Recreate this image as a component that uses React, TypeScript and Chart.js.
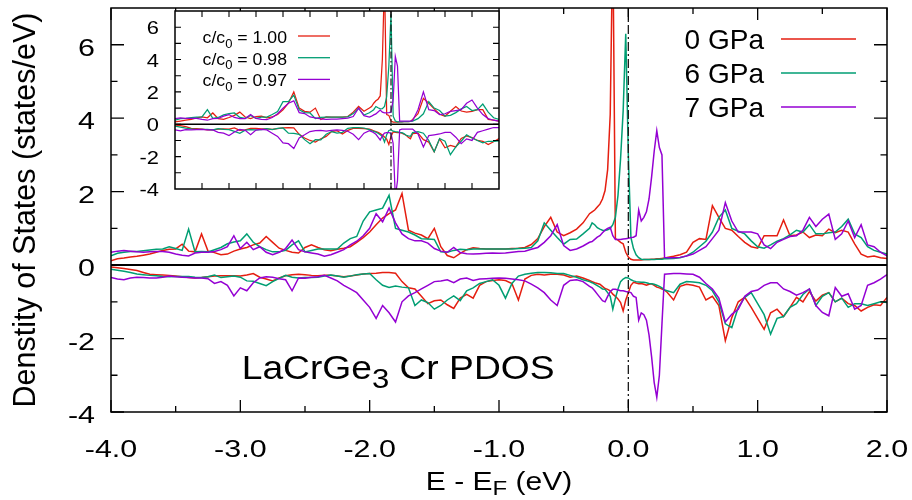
import React, { useEffect, useRef } from 'react';
import { Chart, registerables } from 'chart.js';

Chart.register(...registerables);

// ---------- main panel data (E - E_F in eV) ----------
const ENERGY = [
  -4.00, -3.95, -3.90, -3.85, -3.80,
  -3.75, -3.70, -3.65, -3.60, -3.55,
  -3.50, -3.45, -3.40, -3.35, -3.30,
  -3.25, -3.20, -3.15, -3.10, -3.05,
  -3.00, -2.95, -2.90, -2.85, -2.80,
  -2.75, -2.70, -2.65, -2.60, -2.55,
  -2.50, -2.45, -2.40, -2.35, -2.30,
  -2.25, -2.20, -2.15, -2.10, -2.05,
  -2.00, -1.95, -1.90, -1.85, -1.80,
  -1.75, -1.70, -1.65, -1.60, -1.55,
  -1.50, -1.45, -1.40, -1.35, -1.30,
  -1.25, -1.20, -1.15, -1.10, -1.05,
  -1.00, -0.95, -0.90, -0.85, -0.80,
  -0.75, -0.70, -0.65, -0.60, -0.55,
  -0.50, -0.45, -0.40, -0.35, -0.30,
  -0.28, -0.26, -0.24, -0.22, -0.20,
  -0.18, -0.16, -0.14, -0.12, -0.10,
  -0.08, -0.06, -0.04, -0.02, 0.00,
  0.02, 0.04, 0.06, 0.08, 0.10,
  0.12, 0.14, 0.16, 0.18, 0.20,
  0.22, 0.24, 0.26, 0.28, 0.30,
  0.35, 0.40, 0.45, 0.50, 0.55,
  0.60, 0.65, 0.70, 0.75, 0.80,
  0.85, 0.90, 0.95, 1.00, 1.05,
  1.10, 1.15, 1.20, 1.25, 1.30,
  1.35, 1.40, 1.45, 1.50, 1.55,
  1.60, 1.65, 1.70, 1.75, 1.80,
  1.85, 1.90, 1.95, 2.00,
];

const UP_0GPA = [
  0.12, 0.17, 0.19, 0.22, 0.24,
  0.27, 0.30, 0.35, 0.40, 0.43,
  0.44, 0.57, 0.38, 0.36, 0.85,
  0.38, 0.34, 0.28, 0.30, 0.38,
  0.44, 0.48, 0.55, 0.60, 0.78,
  0.62, 0.46, 0.40, 0.35, 0.33,
  0.48, 0.55, 0.48, 0.42, 0.39,
  0.43, 0.46, 0.50, 0.62, 0.75,
  0.90, 1.10, 1.28, 1.40, 1.50,
  1.95, 0.95, 0.87, 0.82, 0.72,
  1.00, 0.50, 0.26, 0.20, 0.32,
  0.42, 0.47, 0.45, 0.44, 0.44,
  0.44, 0.44, 0.45, 0.46, 0.48,
  0.56, 0.72, 1.05, 1.30, 0.90,
  0.80, 0.88, 0.98, 1.15, 1.40,
  1.45, 1.50, 1.58, 1.66, 1.80,
  2.03, 2.60, 4.10, 9.00, 0.72,
  0.68, 0.62, 0.58, 0.35, 0.22,
  0.16, 0.14, 0.14, 0.14, 0.14,
  0.15, 0.15, 0.15, 0.16, 0.16,
  0.17, 0.17, 0.18, 0.19, 0.21,
  0.24, 0.28, 0.35, 0.62, 0.72,
  0.70, 1.62, 1.30, 1.00, 0.95,
  0.78, 0.62, 0.50, 0.46, 0.80,
  0.80, 0.80, 1.23, 0.80, 0.82,
  0.90, 0.75, 0.82, 0.80, 0.98,
  0.88, 0.95, 0.90, 0.58, 0.30,
  0.22, 0.25, 0.20, 0.18,
];

const UP_6GPA = [
  0.25, 0.32, 0.35, 0.37, 0.37,
  0.39, 0.41, 0.43, 0.44, 0.50,
  0.45, 0.40, 0.98, 0.36, 0.37,
  0.36, 0.42, 0.48, 0.58, 0.63,
  0.66, 0.85, 0.62, 0.50, 0.42,
  0.36, 0.36, 0.40, 0.55, 0.66,
  0.36, 0.40, 0.44, 0.44, 0.44,
  0.44, 0.60, 0.72, 0.78, 1.20,
  1.45, 1.50, 1.55, 1.90, 1.00,
  0.95, 0.90, 0.82, 0.72, 0.71,
  0.70, 0.36, 0.35, 0.40, 0.43,
  0.42, 0.44, 0.44, 0.44, 0.44,
  0.44, 0.44, 0.44, 0.45, 0.46,
  0.48, 0.66, 1.15, 0.95, 0.75,
  0.57, 0.70, 0.71, 0.85, 1.00,
  1.15, 1.10, 1.02, 0.98, 0.95,
  0.94, 0.96, 1.00, 1.10, 1.30,
  1.90, 2.90, 4.20, 6.30, 3.00,
  0.75, 0.45, 0.28, 0.20, 0.16,
  0.15, 0.15, 0.15, 0.15, 0.15,
  0.16, 0.16, 0.16, 0.17, 0.17,
  0.18, 0.20, 0.25, 0.35, 0.50,
  0.65, 0.90, 1.30, 1.50, 1.00,
  0.92, 0.85, 0.66, 0.50, 0.46,
  0.55, 0.65, 0.72, 0.82, 0.95,
  0.90, 1.10, 0.85, 0.85, 0.88,
  0.90, 1.05, 1.25, 0.85, 0.75,
  0.50, 0.40, 0.35, 0.30,
];

const UP_7GPA = [
  0.35, 0.38, 0.40, 0.38, 0.36,
  0.35, 0.36, 0.37, 0.37, 0.35,
  0.30, 0.27, 0.25, 0.33, 0.35,
  0.35, 0.37, 0.42, 0.50, 0.80,
  0.45, 0.62, 0.42, 0.50, 0.35,
  0.28, 0.35, 0.45, 0.68, 0.42,
  0.36, 0.33, 0.30, 0.24, 0.28,
  0.35, 0.42, 0.55, 0.65, 0.80,
  1.00, 1.40, 1.18, 1.55, 1.15,
  0.85, 0.72, 0.66, 0.66, 0.60,
  0.45, 0.38, 0.35, 0.48, 0.34,
  0.31, 0.30, 0.31, 0.32, 0.33,
  0.32, 0.33, 0.35, 0.37, 0.38,
  0.43, 0.48, 0.62, 0.80, 1.10,
  0.53, 0.40, 0.44, 0.52, 0.62,
  0.64, 0.70, 0.76, 0.80, 0.88,
  0.95, 1.00, 1.03, 0.80, 0.70,
  0.70, 0.70, 0.71, 0.72, 0.73,
  0.75, 0.76, 0.80, 1.50, 1.20,
  1.30, 1.45, 1.80, 2.40, 3.10,
  3.66, 3.20, 3.00, 0.21, 0.20,
  0.20, 0.21, 0.25, 0.30, 0.40,
  0.50, 0.72, 0.95, 1.70, 1.20,
  0.90, 0.90, 0.90, 0.85, 0.55,
  0.45, 0.62, 0.70, 0.78, 0.80,
  0.95, 1.30, 1.05, 1.25, 1.39,
  0.70, 0.85, 1.20, 0.75, 1.10,
  0.55, 0.50, 0.35, 0.25,
];

const DOWN_0GPA = [
  -0.05, -0.07, -0.09, -0.12, -0.15,
  -0.20, -0.25, -0.26, -0.27, -0.28,
  -0.30, -0.32, -0.34, -0.35, -0.34,
  -0.32, -0.30, -0.29, -0.29, -0.29,
  -0.30, -0.27, -0.23, -0.33, -0.38,
  -0.43, -0.35, -0.29, -0.26, -0.25,
  -0.26, -0.28, -0.29, -0.28, -0.28,
  -0.30, -0.32, -0.30, -0.27, -0.24,
  -0.23, -0.22, -0.20, -0.20, -0.22,
  -0.45, -0.62, -0.65, -0.85, -1.05,
  -0.97, -0.95, -1.08, -1.18, -0.90,
  -0.80, -0.90, -0.55, -0.45, -0.42,
  -0.40, -0.42, -0.50, -0.95, -0.38,
  -0.28, -0.25, -0.27, -0.25, -0.25,
  -0.27, -0.33, -0.30, -0.35, -0.42,
  -0.45, -0.48, -0.50, -0.52, -0.58,
  -0.64, -0.66, -0.70, -0.79, -0.85,
  -0.92, -1.02, -1.25, -0.95, -0.75,
  -0.55, -0.47, -0.49, -0.51, -0.50,
  -0.52, -0.55, -0.52, -0.51, -0.55,
  -0.60, -0.62, -0.65, -0.68, -0.74,
  -0.95, -0.58, -0.52, -0.55, -0.60,
  -0.95, -0.85, -1.10, -2.06, -1.43,
  -1.00, -0.88, -1.15, -1.45, -1.75,
  -1.30, -1.20, -1.40, -1.15, -0.88,
  -1.00, -0.72, -0.98, -0.82, -0.75,
  -1.00, -0.90, -1.05, -1.10, -1.25,
  -1.15, -1.08, -1.10, -0.88,
];

const DOWN_6GPA = [
  -0.11, -0.14, -0.17, -0.20, -0.24,
  -0.26, -0.28, -0.29, -0.31, -0.32,
  -0.31, -0.31, -0.31, -0.33, -0.34,
  -0.32, -0.27, -0.34, -0.32, -0.30,
  -0.33, -0.43, -0.44, -0.50, -0.56,
  -0.45, -0.36, -0.28, -0.33, -0.35,
  -0.34, -0.34, -0.33, -0.30, -0.27,
  -0.30, -0.33, -0.30, -0.26, -0.24,
  -0.23, -0.40, -0.55, -0.61, -0.57,
  -0.60, -0.62, -1.10, -0.95, -1.02,
  -1.20, -1.10, -0.95, -0.84, -0.97,
  -0.70, -0.62, -0.50, -0.45, -0.40,
  -0.55, -0.90, -0.50, -0.30, -0.25,
  -0.22, -0.20, -0.20, -0.21, -0.23,
  -0.23, -0.28, -0.33, -0.40, -0.45,
  -0.48, -0.52, -0.56, -0.60, -0.65,
  -0.66, -0.75, -0.85, -1.20, -0.90,
  -0.65, -0.45, -0.38, -0.34, -0.35,
  -0.40, -0.43, -0.45, -0.46, -0.47,
  -0.47, -0.48, -0.50, -0.51, -0.52,
  -0.55, -0.58, -0.62, -0.68, -0.70,
  -0.75, -0.52, -0.45, -0.46, -0.48,
  -0.55, -0.70, -1.00, -1.60, -1.70,
  -1.15, -0.88, -0.75, -1.05, -1.35,
  -1.88, -1.45, -1.40, -1.15, -1.05,
  -0.80, -0.65, -1.10, -0.85, -0.75,
  -1.00, -0.90, -1.15, -1.05, -1.05,
  -1.10, -1.05, -1.00, -1.02,
];

const DOWN_7GPA = [
  -0.34, -0.38, -0.40, -0.35, -0.33,
  -0.34, -0.35, -0.35, -0.33, -0.30,
  -0.32, -0.33, -0.34, -0.35, -0.35,
  -0.37, -0.50, -0.45, -0.55, -0.84,
  -0.62, -0.70, -0.48, -0.35, -0.32,
  -0.33, -0.37, -0.40, -0.70, -0.35,
  -0.36, -0.33, -0.32, -0.28, -0.35,
  -0.43, -0.55, -0.65, -0.75, -0.95,
  -1.15, -1.45, -1.10, -1.30, -1.55,
  -1.00, -0.84, -0.75, -0.65, -0.55,
  -0.45, -0.43, -0.40, -0.48, -0.38,
  -0.35, -0.42, -0.38, -0.37, -0.36,
  -0.35, -0.36, -0.38, -0.40, -0.43,
  -0.52, -0.62, -0.75, -0.95, -1.10,
  -0.55, -0.42, -0.40, -0.45, -0.58,
  -0.62, -0.70, -0.79, -0.88, -0.97,
  -1.00, -0.85, -0.72, -0.66, -0.66,
  -0.68, -0.70, -0.70, -0.72, -0.73,
  -0.75, -0.85, -0.88, -1.50, -1.30,
  -1.35, -1.50, -1.90, -2.50, -3.20,
  -3.60, -3.00, -1.60, -0.25, -0.24,
  -0.23, -0.23, -0.24, -0.25, -0.33,
  -0.50, -0.65, -0.90, -1.55, -1.34,
  -1.20, -0.85, -0.72, -0.68, -0.55,
  -0.48, -0.48, -0.65, -0.72, -0.82,
  -0.75, -0.65, -1.10, -1.29, -1.38,
  -0.61, -0.85, -0.78, -1.20, -1.10,
  -0.55, -0.48, -0.38, -0.26,
];

// ---------- inset data ----------
const INSET_ENERGY = [
  -4.0, -3.9, -3.8, -3.7, -3.6,
  -3.5, -3.4, -3.3, -3.2, -3.1,
  -3.0, -2.9, -2.8, -2.7, -2.6,
  -2.5, -2.4, -2.3, -2.2, -2.1,
  -2.0, -1.9, -1.8, -1.7, -1.6,
  -1.5, -1.4, -1.3, -1.2, -1.1,
  -1.0, -0.9, -0.8, -0.7, -0.6,
  -0.5, -0.4,
  -0.36, -0.32, -0.28, -0.24, -0.20,
  -0.16, -0.12, -0.08, -0.04, 0.00,
  0.04, 0.08, 0.12, 0.16, 0.20,
  0.24, 0.28, 0.32, 0.36,
  0.4, 0.5, 0.6, 0.7, 0.8,
  0.9, 1.0, 1.1, 1.2, 1.3,
  1.4, 1.5, 1.6, 1.7, 1.8,
  1.9, 2.0,
];

const INSET_UP_100 = [
  0.15, 0.20, 0.25, 0.30, 0.40,
  0.45, 0.40, 0.70, 0.35, 0.30,
  0.42, 0.55, 0.75, 0.45, 0.35,
  0.48, 0.50, 0.40, 0.45, 0.60,
  0.90, 1.30, 2.00, 1.00, 0.80,
  0.75, 1.00, 0.30, 0.45, 0.44,
  0.44, 0.44, 0.48, 0.75, 1.10,
  0.80, 1.00,
  1.10, 1.30, 1.45, 1.55, 1.75,
  4.00, 9.00, 0.60, 0.55, 0.20,
  0.14, 0.14, 0.14, 0.15, 0.15,
  0.16, 0.16, 0.17, 0.18,
  0.30, 0.65, 1.60, 1.30, 0.95,
  0.62, 0.50, 0.80, 1.10, 0.82,
  0.75, 0.80, 0.90, 0.90, 0.30,
  0.25, 0.20,
];

const INSET_UP_098 = [
  0.25, 0.35, 0.37, 0.41, 0.44,
  0.45, 0.90, 0.37, 0.42, 0.58,
  0.66, 0.70, 0.42, 0.36, 0.55,
  0.36, 0.44, 0.44, 0.60, 0.78,
  1.40, 1.40, 1.80, 0.90, 0.72,
  0.70, 0.35, 0.43, 0.44, 0.44,
  0.44, 0.44, 0.46, 0.66, 1.00,
  0.57, 0.71,
  0.80, 0.90, 1.10, 1.02, 0.95,
  0.96, 1.10, 1.70, 3.60, 6.80,
  0.50, 0.20, 0.15, 0.15, 0.15,
  0.16, 0.16, 0.17, 0.18,
  0.20, 0.35, 0.65, 1.40, 1.00,
  0.85, 0.50, 0.55, 0.72, 0.95,
  1.10, 0.85, 0.90, 1.25, 0.75,
  0.40, 0.30,
];

const INSET_UP_097 = [
  0.35, 0.40, 0.36, 0.36, 0.37,
  0.30, 0.25, 0.35, 0.37, 0.50,
  0.60, 0.42, 0.35, 0.35, 0.60,
  0.36, 0.30, 0.28, 0.42, 0.65,
  1.00, 1.30, 1.45, 0.72, 0.66,
  0.45, 0.40, 0.34, 0.30, 0.32,
  0.32, 0.35, 0.38, 0.48, 1.00,
  0.53, 0.44,
  0.50, 0.58, 0.64, 0.76, 0.88,
  0.75, 0.70, 0.70, 0.72, 0.75,
  1.50, 4.20, 3.60, 0.20, 0.20,
  0.20, 0.20, 0.20, 0.20,
  0.22, 0.90, 2.00, 0.90, 0.85,
  0.60, 0.65, 0.80, 0.85, 0.90,
  1.30, 1.50, 1.00, 0.60, 0.35,
  0.25, 0.20,
];

const INSET_DOWN_100 = [
  -0.05, -0.09, -0.15, -0.25, -0.27,
  -0.30, -0.34, -0.34, -0.30, -0.29,
  -0.30, -0.23, -0.38, -0.35, -0.26,
  -0.26, -0.29, -0.28, -0.32, -0.27,
  -0.23, -0.20, -0.22, -0.62, -0.85,
  -1.00, -1.10, -0.90, -0.75, -0.45,
  -0.40, -0.60, -0.38, -0.25, -0.25,
  -0.27, -0.30,
  -0.35, -0.40, -0.45, -0.50, -0.58,
  -0.66, -0.79, -0.92, -1.25, -0.75,
  -0.47, -0.50, -0.52, -0.52, -0.55,
  -0.62, -0.68, -0.80, -0.90,
  -0.58, -0.55, -0.95, -1.10, -1.70,
  -0.90, -1.45, -1.30, -1.40, -0.88,
  -0.72, -0.82, -1.00, -1.05, -1.25,
  -1.08, -0.88,
];

const INSET_DOWN_098 = [
  -0.11, -0.17, -0.24, -0.28, -0.31,
  -0.31, -0.31, -0.34, -0.27, -0.32,
  -0.33, -0.44, -0.56, -0.36, -0.33,
  -0.34, -0.33, -0.27, -0.33, -0.26,
  -0.23, -0.55, -0.57, -0.62, -0.95,
  -1.20, -0.95, -0.97, -0.62, -0.45,
  -0.55, -0.50, -0.25, -0.20, -0.21,
  -0.23, -0.33,
  -0.40, -0.44, -0.48, -0.56, -0.65,
  -0.75, -1.10, -0.65, -0.38, -0.35,
  -0.43, -0.46, -0.47, -0.50, -0.52,
  -0.58, -0.68, -0.72, -0.75,
  -0.52, -0.46, -0.55, -1.00, -1.70,
  -0.88, -1.05, -1.88, -1.40, -1.05,
  -0.65, -0.85, -1.00, -1.15, -1.05,
  -1.05, -1.02,
];

const INSET_DOWN_097 = [
  -0.34, -0.40, -0.33, -0.35, -0.33,
  -0.32, -0.34, -0.35, -0.50, -0.55,
  -0.70, -0.48, -0.32, -0.37, -0.65,
  -0.36, -0.32, -0.35, -0.55, -0.75,
  -1.15, -1.20, -1.50, -0.84, -0.65,
  -0.45, -0.40, -0.38, -0.42, -0.37,
  -0.35, -0.38, -0.43, -0.62, -0.95,
  -0.55, -0.40,
  -0.45, -0.52, -0.62, -0.79, -0.97,
  -0.70, -0.55, -0.52, -0.52, -0.55,
  -1.20, -4.50, -3.50, -0.35, -0.30,
  -0.30, -0.30, -0.30, -0.30,
  -0.30, -0.60, -1.40, -0.70, -0.65,
  -0.60, -0.50, -0.50, -0.80, -1.20,
  -0.90, -1.00, -0.50, -0.40, -0.30,
  -0.20, -0.20,
];

// ---------- labels & ticks ----------
const SERIES_LABELS = ['0 GPa', '6 GPa', '7 GPa'];
const INSET_LABELS = ['1.00', '0.98', '0.97'];
const COLORS = ['#e51e10', '#009e73', '#9400d3'];
const X_MAJOR = [-4, -3, -2, -1, 0, 1, 2];
const X_MINOR = [-3.5, -2.5, -1.5, -0.5, 0.5, 1.5];
const Y_MAJOR = [-4, -2, 0, 2, 4, 6];
const Y_MINOR = [-3, -1, 1, 3, 5];
const INSET_X_TICKS = [-3.5, -3, -2.5, -2, -1.5, -1, -0.5, 0, 0.5, 1, 1.5];
const INSET_Y_TICKS = [-3, -2, -1, 0, 1, 2, 3, 4, 5, 6];
const INSET_Y_LABELS = [-4, -2, 0, 2, 4, 6];
const Y_TITLE = 'Denstity of States (states/eV)';

const FONT = '"Liberation Sans", Arial, Helvetica, sans-serif';

type Part = { t: string; s: number; dy: number };

function drawParts(ctx: CanvasRenderingContext2D, parts: Part[], x: number, y: number, sx: number, align: 'left' | 'right' | 'center') {
  ctx.save();
  let total = 0;
  const widths = parts.map((p) => {
    ctx.font = `${p.s}px ${FONT}`;
    const w = ctx.measureText(p.t).width;
    total += w;
    return w;
  });
  ctx.translate(x, y);
  ctx.scale(sx, 1);
  let cx = align === 'left' ? 0 : align === 'right' ? -total : -total / 2;
  ctx.textAlign = 'left';
  ctx.textBaseline = 'alphabetic';
  ctx.fillStyle = '#000';
  parts.forEach((p, i) => {
    ctx.font = `${p.s}px ${FONT}`;
    ctx.fillText(p.t, cx, p.dy);
    cx += widths[i];
  });
  ctx.restore();
}

const pts = (xs: number[], ys: number[]) => xs.map((x, i) => ({ x, y: ys[i] }));

function makeDatasets(xs: number[], ups: number[][], downs: number[][], width: number) {
  const out: any[] = [];
  for (let s = 0; s < 3; s++) {
    out.push({ data: pts(xs, ups[s]), borderColor: COLORS[s], borderWidth: width, pointRadius: 0, order: 3 - s, fill: false });
    out.push({ data: pts(xs, downs[s]), borderColor: COLORS[s], borderWidth: width, pointRadius: 0, order: 3 - s, fill: false });
  }
  return out;
}

const mainDecor = {
  id: 'mainDecor',
  beforeDatasetsDraw(chart: any) {
    const { ctx, chartArea: a, scales } = chart;
    const y0 = scales.y.getPixelForValue(0);
    ctx.save();
    ctx.strokeStyle = '#000';
    ctx.lineWidth = 2;
    ctx.beginPath();
    ctx.moveTo(a.left, y0);
    ctx.lineTo(a.right, y0);
    ctx.stroke();
    ctx.restore();
  },
  afterDatasetsDraw(chart: any) {
    const { ctx, chartArea: a, scales } = chart;
    const x = scales.x;
    const y = scales.y;
    ctx.save();
    const xf = x.getPixelForValue(0);
    ctx.strokeStyle = '#1a1a1a';
    ctx.lineWidth = 1.3;
    ctx.setLineDash([9, 3, 2, 3]);
    ctx.beginPath();
    ctx.moveTo(xf, a.top);
    ctx.lineTo(xf, a.bottom);
    ctx.stroke();
    ctx.setLineDash([]);

    ctx.strokeStyle = '#000';
    ctx.lineWidth = 1.3;
    ctx.beginPath();
    const xt = (v: number, len: number) => {
      const px = x.getPixelForValue(v);
      ctx.moveTo(px, a.bottom); ctx.lineTo(px, a.bottom - len);
      ctx.moveTo(px, a.top); ctx.lineTo(px, a.top + len);
    };
    const yt = (v: number, len: number) => {
      const py = y.getPixelForValue(v);
      ctx.moveTo(a.left, py); ctx.lineTo(a.left + len, py);
      ctx.moveTo(a.right, py); ctx.lineTo(a.right - len, py);
    };
    X_MAJOR.forEach((v) => xt(v, 12));
    X_MINOR.forEach((v) => xt(v, 6));
    Y_MAJOR.forEach((v) => yt(v, 13));
    Y_MINOR.forEach((v) => yt(v, 6.5));
    ctx.stroke();

    ctx.lineWidth = 1.5;
    ctx.strokeRect(a.left, a.top, a.right - a.left, a.bottom - a.top);

    X_MAJOR.forEach((v) => drawParts(ctx, [{ t: v.toFixed(1), s: 24, dy: 0 }], x.getPixelForValue(v), 457, 1.27, 'center'));
    Y_MAJOR.forEach((v) => drawParts(ctx, [{ t: String(v), s: 24, dy: 0 }], 95, y.getPixelForValue(v) + 11, 1.27, 'right'));

    ctx.save();
    ctx.translate(35, (a.top + a.bottom) / 2);
    ctx.rotate(-Math.PI / 2);
    ctx.font = `30.5px ${FONT}`;
    ctx.fillStyle = '#000';
    ctx.textAlign = 'center';
    ctx.textBaseline = 'alphabetic';
    ctx.fillText(Y_TITLE, 0, 0);
    ctx.restore();

    drawParts(ctx, [{ t: 'E - E', s: 25, dy: 0 }, { t: 'F', s: 20, dy: 5 }, { t: ' (eV)', s: 25, dy: 0 }], (a.left + a.right) / 2, 490, 1.2, 'center');

    drawParts(ctx, [{ t: 'LaCrGe', s: 33.5, dy: 0 }, { t: '3', s: 28, dy: 8.5 }, { t: ' Cr PDOS', s: 33.5, dy: 0 }], 241.7, 379, 1.11, 'left');

    for (let i = 0; i < 3; i++) {
      const ly = 39 + i * 34;
      drawParts(ctx, [{ t: SERIES_LABELS[i], s: 28, dy: 0 }], 764, ly + 10, 1, 'right');
      ctx.strokeStyle = COLORS[i];
      ctx.lineWidth = 1.5;
      ctx.beginPath();
      ctx.moveTo(781, ly);
      ctx.lineTo(856, ly);
      ctx.stroke();
    }
    ctx.restore();
  },
};

const insetDecor = {
  id: 'insetDecor',
  beforeDraw(chart: any) {
    const { ctx, chartArea: a } = chart;
    ctx.save();
    ctx.fillStyle = '#fff';
    ctx.fillRect(a.left, a.top, a.right - a.left, a.bottom - a.top);
    ctx.restore();
  },
  beforeDatasetsDraw(chart: any) {
    const { ctx, chartArea: a, scales } = chart;
    const y0 = scales.y.getPixelForValue(0);
    ctx.save();
    ctx.strokeStyle = '#000';
    ctx.lineWidth = 1.6;
    ctx.beginPath();
    ctx.moveTo(a.left, y0);
    ctx.lineTo(a.right, y0);
    ctx.stroke();
    ctx.restore();
  },
  afterDatasetsDraw(chart: any) {
    const { ctx, chartArea: a, scales } = chart;
    const x = scales.x;
    const y = scales.y;
    ctx.save();
    const xf = x.getPixelForValue(0);
    ctx.strokeStyle = '#1a1a1a';
    ctx.lineWidth = 1.2;
    ctx.setLineDash([7, 2.5, 1.5, 2.5]);
    ctx.beginPath();
    ctx.moveTo(xf, a.top);
    ctx.lineTo(xf, a.bottom);
    ctx.stroke();
    ctx.setLineDash([]);

    ctx.strokeStyle = '#000';
    ctx.lineWidth = 1.1;
    ctx.beginPath();
    INSET_X_TICKS.forEach((v) => {
      const px = x.getPixelForValue(v);
      ctx.moveTo(px, a.bottom); ctx.lineTo(px, a.bottom - 6);
      ctx.moveTo(px, a.top); ctx.lineTo(px, a.top + 6);
    });
    INSET_Y_TICKS.forEach((v) => {
      const py = y.getPixelForValue(v);
      ctx.moveTo(a.left, py); ctx.lineTo(a.left + 6, py);
      ctx.moveTo(a.right, py); ctx.lineTo(a.right - 6, py);
    });
    ctx.stroke();
    ctx.lineWidth = 1.5;
    ctx.strokeRect(a.left, a.top, a.right - a.left, a.bottom - a.top);

    INSET_Y_LABELS.forEach((v) => drawParts(ctx, [{ t: String(v), s: 17.5, dy: 0 }], 159, y.getPixelForValue(v) + 7, 1.25, 'right'));

    for (let i = 0; i < 3; i++) {
      const ly = 36 + i * 21.7;
      drawParts(ctx, [{ t: 'c/c', s: 17, dy: 0 }, { t: '0', s: 12.5, dy: 4.5 }, { t: ' = ' + INSET_LABELS[i], s: 17, dy: 0 }], 287, ly + 7, 1.04, 'right');
      ctx.strokeStyle = COLORS[i];
      ctx.lineWidth = 1.3;
      ctx.beginPath();
      ctx.moveTo(298, ly);
      ctx.lineTo(330, ly);
      ctx.stroke();
    }
    ctx.restore();
  },
};

function baseScales(xH: number, yW: number) {
  return {
    x: {
      type: 'linear', min: -4, max: 2,
      grid: { display: false }, border: { display: false }, ticks: { display: false },
      afterFit: (s: any) => { s.height = xH; },
    },
    y: {
      type: 'linear', min: -4, max: 7,
      grid: { display: false }, border: { display: false }, ticks: { display: false },
      afterFit: (s: any) => { s.width = yW; },
    },
  };
}

export default function App() {
  const mainRef = useRef<HTMLCanvasElement>(null);
  const insetRef = useRef<HTMLCanvasElement>(null);

  useEffect(() => {
    const common = {
      responsive: false,
      maintainAspectRatio: false,
      animation: false,
      devicePixelRatio: 1,
      events: [],
      plugins: { legend: { display: false }, tooltip: { enabled: false } },
      elements: { line: { tension: 0 } },
    };
    const main = new Chart(mainRef.current as HTMLCanvasElement, {
      type: 'line',
      data: { datasets: makeDatasets(ENERGY, [UP_0GPA, UP_6GPA, UP_7GPA], [DOWN_0GPA, DOWN_6GPA, DOWN_7GPA], 1.5) },
      options: { ...common, layout: { padding: { left: 0, right: 25, top: 8, bottom: 0 } }, scales: baseScales(88, 111) } as any,
      plugins: [mainDecor],
    });
    const inset = new Chart(insetRef.current as HTMLCanvasElement, {
      type: 'line',
      data: { datasets: makeDatasets(INSET_ENERGY, [INSET_UP_100, INSET_UP_098, INSET_UP_097], [INSET_DOWN_100, INSET_DOWN_098, INSET_DOWN_097], 1.25) },
      options: { ...common, layout: { padding: { left: 0, right: 413, top: 11, bottom: 0 } }, scales: baseScales(311, 175) } as any,
      plugins: [insetDecor],
    });
    return () => {
      main.destroy();
      inset.destroy();
    };
  }, []);

  return (
    <div style={{ position: 'absolute', left: 0, top: 0, width: 912, height: 500, background: '#fff' }}>
      <canvas ref={mainRef} width={912} height={500} style={{ position: 'absolute', left: 0, top: 0 }} />
      <canvas ref={insetRef} width={912} height={500} style={{ position: 'absolute', left: 0, top: 0 }} />
    </div>
  );
}
